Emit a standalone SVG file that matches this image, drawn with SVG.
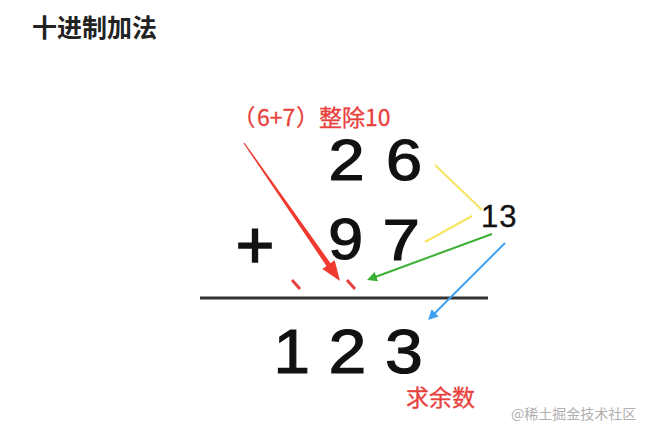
<svg xmlns="http://www.w3.org/2000/svg" width="648" height="435" viewBox="0 0 648 435">
<style>
.cjk{font-family:"Noto Sans CJK SC","Liberation Sans",sans-serif}
.num{font-family:"Liberation Sans",Arial,sans-serif;fill:#111;stroke:#111;stroke-width:1.2}
.red{fill:#e8413c}
</style>
<defs>
<marker id="ahG" viewBox="0 0 10 10" refX="2" refY="5" markerWidth="10" markerHeight="10" markerUnits="userSpaceOnUse" orient="auto"><path d="M0,0 L10,5 L0,10 z" fill="#3cb034"/></marker>
<marker id="ahB" viewBox="0 0 10 10" refX="2" refY="5" markerWidth="10" markerHeight="10" markerUnits="userSpaceOnUse" orient="auto"><path d="M0,0 L10,5 L0,10 z" fill="#3fa0f0"/></marker>
</defs>
<rect width="648" height="435" fill="#fff"/>
<g id="title"><text class="cjk" x="32" y="37" font-size="25" font-weight="700" fill="#222">十进制加法</text></g>
<g id="label-div"><text class="cjk red" font-size="23" y="126" style="stroke:#e8413c;stroke-width:0.3"><tspan x="232.4">（</tspan><tspan x="257">6+7</tspan><tspan x="296">）整除10</tspan></text></g>
<g id="row1">
<text class="num" transform="translate(328.6,180) scale(1.12,1)" font-size="58">2</text>
<text class="num" transform="translate(386,180) scale(1.12,1)" font-size="58">6</text>
</g>
<g id="row2">
<text class="num" x="235.7" y="268" font-size="66" style="stroke-width:1.6">+</text>
<text class="num" transform="translate(328.3,259) scale(1.08,1)" font-size="58">9</text>
<text class="num" transform="translate(382.5,260) scale(1.16,1)" font-size="58">7</text>
</g>
<g id="sum13"><text class="num" x="481" y="227" font-size="31" letter-spacing="1" style="stroke-width:0.3">13</text></g>
<g id="result">
<text class="num" transform="translate(273.5,373) scale(1.04,1)" font-size="63">1</text>
<text class="num" transform="translate(328.6,373) scale(1.08,1)" font-size="63">2</text>
<text class="num" transform="translate(384.9,373) scale(1.08,1)" font-size="63">3</text>
</g>
<g id="label-mod"><text class="cjk red" x="406" y="406" font-size="23" style="stroke:#e8413c;stroke-width:0.3">求余数</text></g>
<g id="watermark"><text class="cjk" x="511" y="419" font-size="14" fill="#b0b0b0">@稀土掘金技术社区</text></g>
<g id="connectors">
<line x1="200" y1="298" x2="488" y2="298" stroke="#333" stroke-width="3"/>
<line x1="292" y1="280" x2="300" y2="289" stroke="#e8413c" stroke-width="3"/>
<line x1="347" y1="280" x2="355" y2="289" stroke="#e8413c" stroke-width="3"/>
<line x1="435" y1="165" x2="482" y2="210" stroke="#f7e463" stroke-width="2"/>
<line x1="425" y1="242" x2="472" y2="216" stroke="#f7e463" stroke-width="2"/>
<polygon points="244.5,142.7 330.55,263.2 334.65,260.3 340,281 322.35,268.9 326.45,266 243.5,143.3" fill="#f03a30"/>
<line x1="492" y1="234" x2="374.5" y2="277.2" stroke="#3cb034" stroke-width="2" marker-end="url(#ahG)"/>
<line x1="505" y1="243" x2="433.7" y2="314.3" stroke="#3fa0f0" stroke-width="2" marker-end="url(#ahB)"/>
</g>
</svg>
